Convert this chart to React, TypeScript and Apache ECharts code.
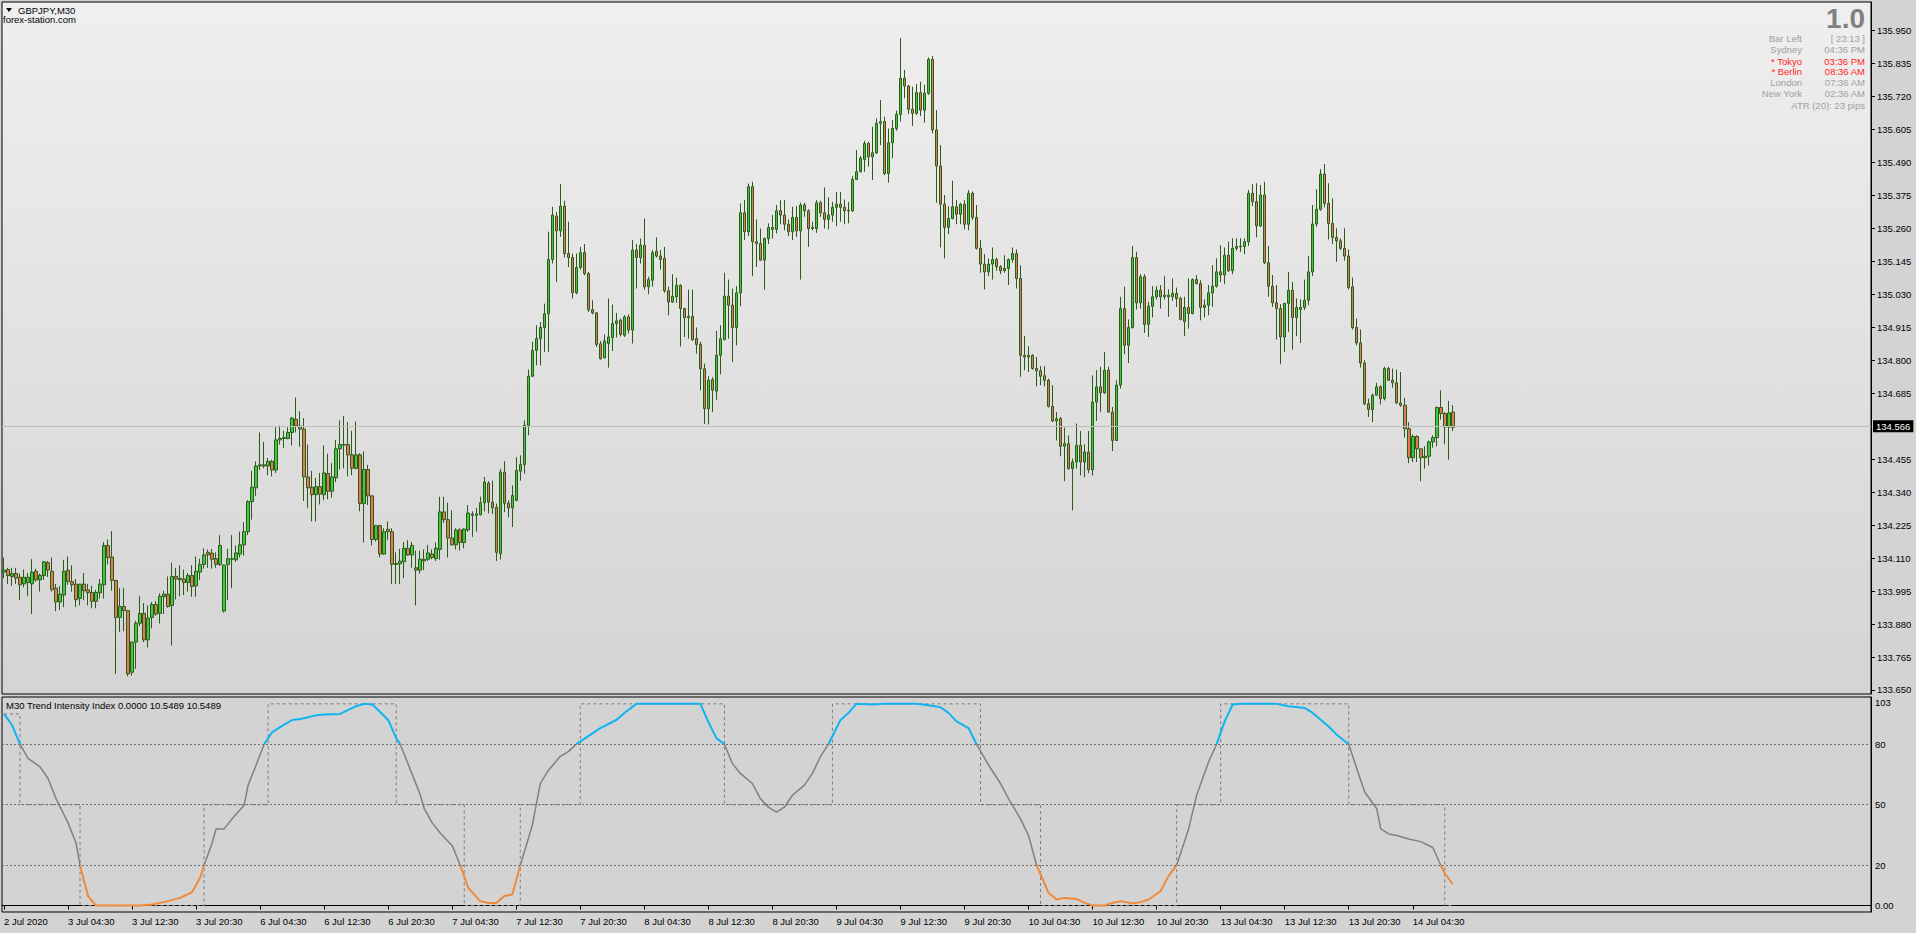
import React, { useEffect, useRef } from "react";
import * as echarts from "echarts";

// ---------- x axis ----------
const tickLabels = [
  "2 Jul 2020", "3 Jul 04:30", "3 Jul 12:30", "3 Jul 20:30", "6 Jul 04:30", "6 Jul 12:30",
  "6 Jul 20:30", "7 Jul 04:30", "7 Jul 12:30", "7 Jul 20:30", "8 Jul 04:30", "8 Jul 12:30",
  "8 Jul 20:30", "9 Jul 04:30", "9 Jul 12:30", "9 Jul 20:30", "10 Jul 04:30", "10 Jul 12:30",
  "10 Jul 20:30", "13 Jul 04:30", "13 Jul 12:30", "13 Jul 20:30", "14 Jul 04:30",
];
const SLOTS = 467;
const LABEL_STEP = 16;

// ---------- price candles [open, close, low, high] ----------
const jul02 = [
  [134.061,134.068,134.040,134.112],[134.070,134.049,134.020,134.076],[134.046,134.056,134.013,134.076],
  [134.056,134.040,134.020,134.076],[134.043,134.017,133.963,134.056],[134.020,134.043,134.008,134.070],
  [134.025,134.043,133.977,134.058],
];
const jul03 = [
  [134.020,134.061,133.915,134.106],[134.064,134.034,134.028,134.073],[134.034,134.050,133.993,134.056],
  [134.049,134.097,134.034,134.100],[134.094,134.068,134.044,134.100],[134.064,134.001,133.993,134.112],
  [134.005,133.957,133.925,134.020],[133.957,133.984,133.929,134.013],[133.981,134.064,133.939,134.104],
  [134.068,134.028,134.017,134.116],[134.028,134.017,133.993,134.085],[134.019,133.965,133.939,134.037],
  [133.969,134.019,133.945,134.020],[134.019,133.996,133.963,134.058],[133.999,133.989,133.945,134.020],
  [133.990,133.959,133.935,134.013],[133.959,133.990,133.935,133.999],[133.989,134.019,133.969,134.037],
  [134.017,134.154,133.969,134.166],[134.154,134.112,134.088,134.175],[134.114,134.032,133.996,134.204],
  [134.032,133.903,133.706,134.034],[133.903,133.941,133.853,134.005],[133.941,133.927,133.855,134.005],
  [133.927,133.706,133.698,133.929],[133.712,133.817,133.700,133.819],[133.817,133.883,133.724,133.891],
  [133.883,133.917,133.873,133.977],[133.917,133.825,133.817,133.953],[133.825,133.901,133.798,133.945],
  [133.903,133.948,133.865,133.957],[133.948,133.915,133.909,133.960],[133.917,133.977,133.882,133.987],
  [133.975,133.984,133.915,133.996],[133.984,133.941,133.937,134.046],[133.945,134.046,133.805,134.094],
  [134.046,134.037,133.965,134.076],[134.039,134.034,133.977,134.085],[134.037,134.025,133.981,134.070],
  [134.025,134.049,133.993,134.058],[134.049,134.011,133.975,134.085],[134.013,134.064,133.975,134.116],
  [134.061,134.088,134.034,134.108],[134.088,134.121,134.073,134.144],[134.130,134.121,134.076,134.140],
  [134.127,134.106,134.073,134.142],[134.108,134.088,134.076,134.130],[134.088,134.154,134.082,134.190],
];
const jul06 = [
  [133.925,134.085,133.920,134.088],[134.088,134.108,133.963,134.142],[134.106,134.108,134.005,134.190],
  [134.104,134.128,134.097,134.154],[134.124,134.156,134.112,134.202],[134.156,134.202,134.118,134.235],
  [134.202,134.307,134.190,134.312],[134.307,134.357,134.244,134.414],[134.355,134.431,134.327,134.447],
  [134.431,134.435,134.417,134.548],[134.435,134.431,134.423,134.515],[134.431,134.447,134.399,134.459],
  [134.447,134.417,134.395,134.453],[134.417,134.522,134.407,134.566],[134.522,134.527,134.506,134.572],
  [134.527,134.530,134.494,134.554],[134.527,134.548,134.524,134.566],[134.548,134.598,134.503,134.602],
  [134.594,134.570,134.548,134.670],[134.570,134.560,134.498,134.622],[134.560,134.393,134.309,134.598],
  [134.393,134.355,134.285,134.506],[134.357,134.331,134.238,134.414],[134.331,134.359,134.238,134.390],
  [134.359,134.333,134.297,134.407],[134.331,134.407,134.312,134.503],[134.405,134.343,134.315,134.474],
  [134.343,134.393,134.321,134.441],[134.390,134.491,134.375,134.522],[134.491,134.506,134.419,134.590],
  [134.504,134.506,134.423,134.605],[134.506,134.470,134.395,134.584],[134.470,134.423,134.399,134.554],
  [134.423,134.470,134.419,134.586],[134.470,134.300,134.273,134.476],[134.300,134.419,134.164,134.482],
  [134.419,134.327,134.295,134.435],[134.327,134.175,134.154,134.327],[134.175,134.223,134.168,134.226],
  [134.223,134.124,134.112,134.226],[134.124,134.202,134.121,134.214],[134.210,134.202,134.172,134.238],
  [134.202,134.088,134.020,134.214],[134.088,134.091,134.020,134.130],[134.090,134.099,134.020,134.142],
  [134.097,134.144,134.040,134.166],[134.144,134.121,134.118,134.172],[134.121,134.154,134.076,134.166],
];
const jul07 = [
  [134.076,134.068,133.945,134.136],[134.068,134.106,134.056,134.136],[134.100,134.106,134.068,134.140],
  [134.106,134.128,134.100,134.156],[134.124,134.112,134.106,134.140],[134.108,134.144,134.100,134.164],
  [134.140,134.271,134.104,134.324],[134.271,134.244,134.232,134.324],[134.244,134.180,134.112,134.303],
  [134.180,134.156,134.154,134.276],[134.156,134.208,134.140,134.214],[134.208,134.164,134.136,134.214],
  [134.164,134.211,134.144,134.214],[134.208,134.267,134.202,134.295],[134.259,134.264,134.184,134.273],
  [134.259,134.264,134.202,134.285],[134.261,134.303,134.259,134.324],[134.303,134.375,134.273,134.393],
  [134.371,134.305,134.266,134.378],[134.305,134.285,134.264,134.380],[134.287,134.130,134.100,134.300],
  [134.125,134.410,134.105,134.421],[134.410,134.301,134.270,134.448],[134.301,134.285,134.252,134.311],
  [134.285,134.328,134.218,134.363],[134.311,134.415,134.308,134.462],[134.413,134.436,134.380,134.468],
  [134.436,134.573,134.404,134.590],[134.573,134.744,134.538,134.767],[134.744,134.834,134.741,134.864],
  [134.834,134.875,134.782,134.922],[134.875,134.914,134.782,134.933],[134.914,134.962,134.829,134.997],
  [134.962,135.151,134.829,135.248],[135.151,135.306,135.137,135.335],[135.302,135.251,135.073,135.317],
  [135.251,135.337,135.230,135.414],[135.337,135.172,135.158,135.356],[135.172,135.158,135.125,135.283],
  [135.158,135.035,135.015,135.172],[135.035,135.123,135.030,135.172],[135.123,135.175,135.116,135.195],
  [135.175,135.102,135.096,135.205],[135.102,134.976,134.968,135.108],[134.976,134.965,134.960,135.009],
  [134.965,134.855,134.846,134.968],[134.857,134.805,134.802,134.867],[134.809,134.867,134.805,134.890],
];
const jul08 = [
  [134.858,134.881,134.774,135.015],[134.879,134.928,134.832,134.994],[134.928,134.937,134.879,134.965],
  [134.939,134.890,134.883,134.945],[134.887,134.951,134.881,134.957],[134.951,134.905,134.893,134.960],
  [134.905,135.184,134.858,135.219],[135.184,135.158,135.050,135.205],[135.158,135.201,135.137,135.224],
  [135.201,135.056,135.046,135.294],[135.056,135.081,135.030,135.091],[135.079,135.175,135.056,135.184],
  [135.180,135.163,135.158,135.228],[135.163,135.151,135.116,135.184],[135.155,135.042,135.035,135.195],
  [135.042,135.003,134.957,135.056],[135.003,135.023,135.000,135.100],[135.021,135.061,135.000,135.088],
  [135.061,134.980,134.848,135.065],[134.980,134.948,134.881,134.983],[134.948,134.953,134.875,135.046],
  [134.953,134.872,134.867,135.046],[134.875,134.855,134.823,134.914],[134.855,134.770,134.695,134.864],
  [134.770,134.631,134.578,134.788],[134.631,134.730,134.576,134.744],[134.732,134.695,134.619,134.741],
  [134.692,134.817,134.662,134.902],[134.817,134.875,134.751,134.922],[134.872,135.023,134.869,135.105],
  [135.023,134.992,134.875,135.081],[134.992,134.914,134.794,135.050],[134.914,135.035,134.852,135.058],
  [135.035,135.314,134.988,135.347],[135.314,135.248,135.219,135.358],[135.248,135.405,135.233,135.416],
  [135.405,135.213,135.093,135.422],[135.213,135.207,135.125,135.291],[135.207,135.149,135.146,135.259],
  [135.149,135.224,135.046,135.228],[135.224,135.263,135.205,135.277],[135.263,135.256,135.224,135.306],
  [135.256,135.321,135.242,135.341],[135.321,135.306,135.274,135.358],[135.306,135.274,135.253,135.358],
  [135.274,135.248,135.233,135.291],[135.248,135.298,135.219,135.335],[135.298,135.251,135.230,135.337],
];
const jul09 = [
  [135.251,135.341,135.081,135.349],[135.341,135.321,135.300,135.349],[135.321,135.259,135.195,135.326],
  [135.263,135.259,135.253,135.283],[135.259,135.349,135.244,135.358],[135.349,135.314,135.300,135.356],
  [135.314,135.291,135.259,135.402],[135.291,135.306,135.256,135.368],[135.306,135.333,135.283,135.352],
  [135.333,135.344,135.267,135.387],[135.344,135.333,135.283,135.387],[135.333,135.321,135.274,135.360],
  [135.321,135.323,135.277,135.352],[135.321,135.430,135.317,135.442],[135.430,135.457,135.428,135.533],
  [135.457,135.504,135.455,135.512],[135.500,135.556,135.457,135.565],[135.556,135.509,135.475,135.562],
  [135.509,135.523,135.428,135.614],[135.523,135.626,135.519,135.643],[135.626,135.632,135.550,135.707],
  [135.632,135.451,135.445,135.649],[135.451,135.558,135.419,135.608],[135.558,135.608,135.504,135.637],
  [135.608,135.657,135.600,135.670],[135.657,135.783,135.632,135.923],[135.783,135.756,135.713,135.812],
  [135.756,135.675,135.658,135.760],[135.675,135.661,135.617,135.754],[135.661,135.733,135.655,135.763],
  [135.733,135.672,135.651,135.771],[135.672,135.731,135.628,135.760],[135.731,135.849,135.725,135.856],
  [135.849,135.603,135.591,135.861],[135.603,135.477,135.349,135.672],[135.477,135.344,135.193,135.550],
  [135.344,135.263,135.155,135.376],[135.263,135.294,135.240,135.337],[135.294,135.335,135.291,135.426],
  [135.335,135.309,135.274,135.358],[135.309,135.344,135.274,135.349],[135.344,135.274,135.256,135.358],
  [135.274,135.382,135.253,135.393],[135.382,135.298,135.289,135.388],[135.298,135.190,135.186,135.341],
  [135.190,135.135,135.105,135.219],[135.135,135.108,135.047,135.170],[135.108,135.135,135.093,135.155],
];
const jul10 = [
  [135.135,135.151,135.081,135.193],[135.151,135.126,135.112,135.158],[135.126,135.112,135.100,135.131],
  [135.112,135.120,135.105,135.166],[135.120,135.151,135.062,135.155],[135.151,135.172,135.140,135.193],
  [135.172,135.085,135.050,135.186],[135.085,134.817,134.742,135.131],[134.817,134.811,134.765,134.884],
  [134.811,134.817,134.759,134.849],[134.817,134.771,134.767,134.821],[134.771,134.763,134.709,134.811],
  [134.763,134.744,134.713,134.779],[134.746,134.730,134.709,134.779],[134.730,134.639,134.635,134.736],
  [134.639,134.588,134.584,134.713],[134.588,134.596,134.520,134.619],[134.596,134.500,134.465,134.602],
  [134.500,134.509,134.378,134.565],[134.509,134.422,134.418,134.538],[134.422,134.445,134.276,134.457],
  [134.445,134.503,134.422,134.579],[134.503,134.445,134.398,134.553],[134.445,134.480,134.392,134.507],
  [134.480,134.418,134.406,134.553],[134.418,134.654,134.398,134.747],[134.654,134.707,134.588,134.765],
  [134.707,134.686,134.619,134.777],[134.686,134.765,134.683,134.829],[134.765,134.619,134.619,134.777],
  [134.619,134.520,134.483,134.637],[134.520,134.713,134.518,134.730],[134.713,134.980,134.701,135.021],
  [134.980,134.852,134.821,135.056],[134.852,134.914,134.790,134.942],[134.914,135.158,134.910,135.198],
  [135.158,135.000,134.977,135.178],[135.000,135.091,134.980,135.100],[135.091,134.925,134.895,135.100],
  [134.925,134.988,134.881,135.003],[134.988,135.021,134.949,135.058],[135.021,135.044,135.012,135.058],
  [135.044,135.021,134.980,135.062],[135.021,135.027,135.012,135.093],[135.027,135.021,134.951,135.047],
  [135.021,135.033,135.007,135.085],[135.033,135.015,134.986,135.053],[135.015,134.942,134.939,135.021],
];
const jul13 = [
  [134.935,134.984,134.884,135.021],[134.984,134.963,134.910,135.085],[134.963,135.081,134.960,135.085],
  [135.081,135.067,135.065,135.097],[135.067,134.984,134.939,135.079],[134.984,134.992,134.949,135.012],
  [134.992,135.035,134.957,135.062],[135.035,135.058,134.986,135.131],[135.058,135.108,135.053,135.155],
  [135.108,135.097,135.073,135.201],[135.097,135.166,135.065,135.193],[135.166,135.112,135.108,135.213],
  [135.112,135.190,135.100,135.225],[135.190,135.196,135.182,135.225],[135.196,135.198,135.178,135.225],
  [135.196,135.213,135.170,135.225],[135.213,135.382,135.198,135.393],[135.382,135.353,135.338,135.414],
  [135.353,135.268,135.228,135.417],[135.268,135.376,135.265,135.411],[135.376,135.140,135.135,135.422],
  [135.140,135.058,135.021,135.198],[135.058,135.000,134.986,135.097],[135.000,134.980,134.872,135.062],
  [134.980,134.881,134.786,134.995],[134.881,134.998,134.829,135.000],[134.998,135.044,134.899,135.108],
  [135.044,134.949,134.837,135.073],[134.949,134.984,134.884,135.015],[134.977,134.984,134.860,135.012],
  [134.984,135.009,134.975,135.081],[135.009,135.108,134.992,135.163],[135.108,135.275,135.093,135.341],
  [135.275,135.326,135.265,135.396],[135.326,135.449,135.321,135.466],[135.449,135.347,135.333,135.484],
  [135.347,135.277,135.221,135.417],[135.277,135.228,135.205,135.364],[135.228,135.216,135.143,135.260],
  [135.216,135.190,135.184,135.225],[135.190,135.163,135.147,135.260],[135.163,135.053,135.047,135.186],
  [135.056,134.914,134.907,135.088],[134.914,134.860,134.852,134.945],[134.860,134.790,134.774,134.907],
  [134.790,134.648,134.643,134.800],[134.648,134.628,134.602,134.666],[134.628,134.678,134.584,134.683],
];
const jul14 = [
  [134.678,134.707,134.678,134.721],[134.707,134.666,134.646,134.713],[134.666,134.771,134.660,134.777],
  [134.771,134.730,134.728,134.777],[134.730,134.721,134.704,134.771],[134.721,134.651,134.648,134.767],
  [134.651,134.643,134.637,134.759],[134.643,134.561,134.530,134.669],[134.561,134.460,134.441,134.584],
  [134.460,134.534,134.445,134.541],[134.534,134.491,134.445,134.538],[134.491,134.460,134.378,134.491],
  [134.460,134.465,134.422,134.500],[134.465,134.515,134.433,134.520],[134.515,134.530,134.495,134.538],
  [134.530,134.635,134.500,134.639],[134.635,134.614,134.593,134.695],[134.614,134.567,134.507,134.619],
  [134.567,134.616,134.453,134.658],[134.619,134.566,134.553,134.643],
];

const priceTicks = [
  133.650, 133.765, 133.880, 133.995, 134.110, 134.225, 134.340, 134.455, 134.685, 134.800,
  134.915, 135.030, 135.145, 135.260, 135.375, 135.490, 135.605, 135.720, 135.835, 135.950,
];
const lastPrice = 134.566;
const priceMin = 133.636;
const priceMax = 136.049;

// ---------- Trend Intensity Index ----------
const tiiBars = [
  0, 2, 4, 6, 9, 11, 13, 16, 18, 19, 21, 23, 34, 37, 40, 44, 47, 49, 50, 52, 53, 55, 57, 60, 61, 63,
  65, 67, 70, 72, 74, 78, 80, 84, 86, 88, 90, 92, 94, 96, 98, 99, 101, 104, 105, 107, 109, 112, 114,
  116, 119, 121, 123, 125, 127, 129, 132, 134, 136, 139, 141, 143, 146, 149, 153, 155, 158, 174, 176,
  178, 180, 182, 184, 187, 189, 191, 193, 195, 197, 200, 202, 204, 206, 209, 211, 213, 217, 220, 228,
  231, 234, 236, 238, 241, 243, 246, 249, 251, 254, 256, 258, 261, 263, 265, 268, 270, 272, 275, 277,
  279, 282, 284, 286, 289, 291, 293, 296, 298, 301, 303, 305, 307, 309, 318, 321, 325, 327, 331, 333,
  336, 338, 340, 343, 344, 346, 348, 351, 354, 357, 359, 360, 362,
];
const tiiValues = [
  95, 89.5, 80, 73, 68.8, 63, 53, 41, 31, 20, 4.7, 0, 0, 0.5, 1.7, 3.8, 6.7, 13.8, 20, 31, 38, 38, 43,
  49.7, 59.7, 69.7, 80, 86, 89.7, 92, 92.5, 94.3, 94.7, 95, 97, 98.8, 100, 99.7, 96, 92, 83, 80, 70, 55,
  48, 41, 36, 29.7, 20, 8.8, 2.2, 1.3, 1.3, 4.7, 5.5, 20, 39.7, 60.5, 67, 74, 76.3, 80, 84, 88, 92, 95.5,
  100, 100, 91, 83, 80, 70.5, 65.5, 60.5, 53, 48.8, 46.3, 48.8, 54.7, 59.7, 65.5, 73.8, 80, 92, 95.5,
  100, 99.7, 100, 100, 99.3, 98.3, 95.5, 91.3, 88, 80, 69.7, 60.5, 53, 43, 34.7, 20, 6.3, 3, 3.8, 3.3,
  1.3, 0, 0, 1.3, 2.2, 1, 1.7, 3, 7.2, 14.7, 20, 38, 54.7, 71.3, 80, 91.3, 99.7, 100, 100, 98.8, 98,
  95.5, 88.8, 84.7, 80, 68, 56.3, 48, 38, 35.5, 34.7, 33, 31.7, 28.8, 20, 16, 10.5489,
];
const boxBars = [0, 4, 19, 50, 66, 98, 115, 129, 144, 180, 207, 244, 259, 293, 304, 336, 360, 362];
const boxLevels = [95, 50, 0, 50, 100, 50, 0, 50, 100, 50, 100, 50, 0, 50, 100, 50, 0];
const levelLines = [80, 50, 20];
const tiiTicks = [0, 20, 50, 80];
const tiiMin = -3.2;
const tiiMax = 103.4;
const tiiHeader = "M30 Trend Intensity Index 0.0000 10.5489 10.5489";

// ---------- info panel ----------
const infoLabels = ["Bar Left", "Sydney", "* Tokyo", "* Berlin", "London", "New York"];
const infoValues = ["[ 23:13 ]", "04:36 PM", "03:36 PM", "08:36 AM", "07:36 AM", "02:36 AM"];
const infoHighlight = [false, false, true, true, false, false];
const atrText = "ATR (20): 23 pips";
const bigValue = "1.0";

const FONT = "'Liberation Sans', Arial, sans-serif";

export default function App() {
  const ref = useRef<HTMLDivElement>(null);

  useEffect(() => {
    if (!ref.current) return;
    const chart = echarts.init(ref.current, undefined, { renderer: "svg" });

    const candles = [...jul02, ...jul03, ...jul06, ...jul07, ...jul08, ...jul09, ...jul10, ...jul13, ...jul14];
    const slots = Array.from({ length: SLOTS }, (_, i) => String(i));
    const isLabelSlot = (i: number) => i % LABEL_STEP === 0 && i / LABEL_STEP < tickLabels.length;

    const tiiPts = tiiBars.map((b, i) => [b, tiiValues[i]]);
    const pick = (cond: (v: number) => boolean) =>
      tiiPts.map(([b, v]) => [b, cond(v) ? v : "-"]);

    const boxPts: number[][] = [];
    for (let i = 0; i < boxLevels.length; i++) {
      boxPts.push([boxBars[i], boxLevels[i]]);
      boxPts.push([boxBars[i + 1], boxLevels[i]]);
    }

    const rowY = [38.5, 49.8, 61, 71.8, 82.8, 93.6];
    const graphics: any[] = [
      { type: "polygon", shape: { points: [[6, 8], [12, 8], [9, 12]] }, style: { fill: "#000" } },
      { type: "text", x: 18, y: 10, style: { text: "GBPJPY,M30", fill: "#000", font: `9.5px ${FONT}`, verticalAlign: "middle", textVerticalAlign: "middle" } },
      { type: "text", x: 3, y: 19.5, style: { text: "forex-station.com", fill: "#000", font: `9.5px ${FONT}`, verticalAlign: "middle", textVerticalAlign: "middle" } },
      { type: "text", x: 1865, y: 18.5, style: { text: bigValue, fill: "#808080", font: `bold 28px ${FONT}`, align: "right", textAlign: "right", verticalAlign: "middle", textVerticalAlign: "middle" } },
      { type: "text", x: 1865, y: 105, style: { text: atrText, fill: "#A0A0A0", font: `9.5px ${FONT}`, align: "right", textAlign: "right", verticalAlign: "middle", textVerticalAlign: "middle" } },
      { type: "text", x: 6, y: 705.5, style: { text: tiiHeader, fill: "#000", font: `9.5px ${FONT}`, verticalAlign: "middle", textVerticalAlign: "middle" } },
    ];
    infoLabels.forEach((lab, i) => {
      const col = infoHighlight[i] ? "#FF1E1E" : "#A0A0A0";
      graphics.push({ type: "text", x: 1802, y: rowY[i], style: { text: lab, fill: col, font: `9.5px ${FONT}`, align: "right", textAlign: "right", verticalAlign: "middle", textVerticalAlign: "middle" } });
      graphics.push({ type: "text", x: 1865, y: rowY[i], style: { text: infoValues[i], fill: col, font: `9.5px ${FONT}`, align: "right", textAlign: "right", verticalAlign: "middle", textVerticalAlign: "middle" } });
    });

    const option: any = {
      animation: false,
      backgroundColor: "#D3D3D3",
      textStyle: { fontFamily: FONT },
      grid: [
        {
          left: 2, top: 2, width: 1869, height: 692, show: true,
          backgroundColor: new echarts.graphic.LinearGradient(0, 0, 0, 1, [
            { offset: 0, color: "#EFEFEF" },
            { offset: 1, color: "#D4D4D4" },
          ]),
          borderColor: "#000", borderWidth: 1,
        },
        { left: 2, top: 697, width: 1869, height: 215, show: true, backgroundColor: "#D3D3D3", borderColor: "#000", borderWidth: 1 },
      ],
      xAxis: [
        {
          type: "category", gridIndex: 0, data: slots, boundaryGap: true,
          axisLine: { show: false }, axisTick: { show: false }, axisLabel: { show: false }, splitLine: { show: false },
        },
        {
          type: "category", gridIndex: 1, data: slots, boundaryGap: true,
          axisLine: { show: true, lineStyle: { color: "#000", width: 1 } },
          axisTick: { show: true, alignWithLabel: true, length: 4, interval: (i: number) => isLabelSlot(i), lineStyle: { color: "#000" } },
          axisLabel: {
            show: true, interval: (i: number) => isLabelSlot(i),
            formatter: (_v: string, i: number) => (isLabelSlot(i) ? tickLabels[i / LABEL_STEP] : ""),
            align: "left", color: "#000", fontSize: 9.5, fontFamily: FONT, margin: 4,
          },
          splitLine: { show: false },
        },
      ],
      yAxis: [
        {
          type: "value", gridIndex: 0, position: "right", min: priceMin, max: priceMax, scale: true,
          splitLine: { show: false },
          axisLine: { show: true, lineStyle: { color: "#000" } },
          axisTick: { show: true, length: 4, customValues: priceTicks, lineStyle: { color: "#000" } },
          axisLabel: {
            customValues: priceTicks, formatter: (v: number) => v.toFixed(3),
            color: "#000", fontSize: 9.5, fontFamily: FONT, margin: 6,
          },
        },
        {
          type: "value", gridIndex: 1, position: "right", min: tiiMin, max: tiiMax,
          splitLine: { show: false },
          axisLine: { show: true, lineStyle: { color: "#000" } },
          axisTick: { show: false },
          axisLabel: {
            customValues: tiiTicks, formatter: (v: number) => (v === 0 ? "0.00" : String(v)),
            color: "#000", fontSize: 9.5, fontFamily: FONT, margin: 4,
          },
        },
        {
          type: "value", gridIndex: 1, position: "right", min: tiiMin, max: tiiMax,
          splitLine: { show: false }, axisLine: { show: false }, axisTick: { show: false },
          axisLabel: {
            customValues: [103], formatter: (v: number) => String(v), verticalAlign: "top",
            color: "#000", fontSize: 9.5, fontFamily: FONT, margin: 4,
          },
        },
      ],
      graphic: graphics,
      series: [
        {
          type: "candlestick", xAxisIndex: 0, yAxisIndex: 0, data: candles, barWidth: 3,
          itemStyle: { color: "#3BCB3B", color0: "#E27A52", borderColor: "#2C5A1A", borderColor0: "#2C5A1A", borderWidth: 1 },
          markLine: {
            silent: true, symbol: ["none", "none"],
            data: [{ yAxis: lastPrice }],
            lineStyle: { color: "#BDBDBD", width: 1, type: "solid" },
            label: {
              show: true, position: "end", distance: 2, formatter: lastPrice.toFixed(3),
              color: "#fff", backgroundColor: "#000", padding: [1, 3, 1, 3], fontSize: 9.5, fontFamily: FONT,
            },
          },
        },
        {
          type: "line", xAxisIndex: 1, yAxisIndex: 1, data: boxPts, symbol: "none", silent: true,
          lineStyle: { color: "#7C7C7C", width: 1, type: [3, 3] },
          markLine: {
            silent: true, symbol: ["none", "none"],
            data: levelLines.map((v) => ({ yAxis: v })),
            lineStyle: { color: "#6E6E6E", width: 1, type: [2, 2] },
            label: { show: false },
          },
          z: 1,
        },
        {
          type: "line", xAxisIndex: 1, yAxisIndex: 1, data: pick((v) => v >= 20 && v <= 80),
          symbol: "none", connectNulls: false, lineStyle: { color: "#808080", width: 1.5 }, z: 2,
        },
        {
          type: "line", xAxisIndex: 1, yAxisIndex: 1, data: pick((v) => v >= 80),
          symbol: "none", connectNulls: false, lineStyle: { color: "#10B4F0", width: 2 }, z: 3,
        },
        {
          type: "line", xAxisIndex: 1, yAxisIndex: 1, data: pick((v) => v <= 20),
          symbol: "none", connectNulls: false, lineStyle: { color: "#F08A3A", width: 2 }, z: 3,
        },
      ],
    };

    chart.setOption(option);
    return () => chart.dispose();
  }, []);

  return <div ref={ref} style={{ position: "fixed", left: 0, top: 0, width: 1916, height: 933 }} />;
}
